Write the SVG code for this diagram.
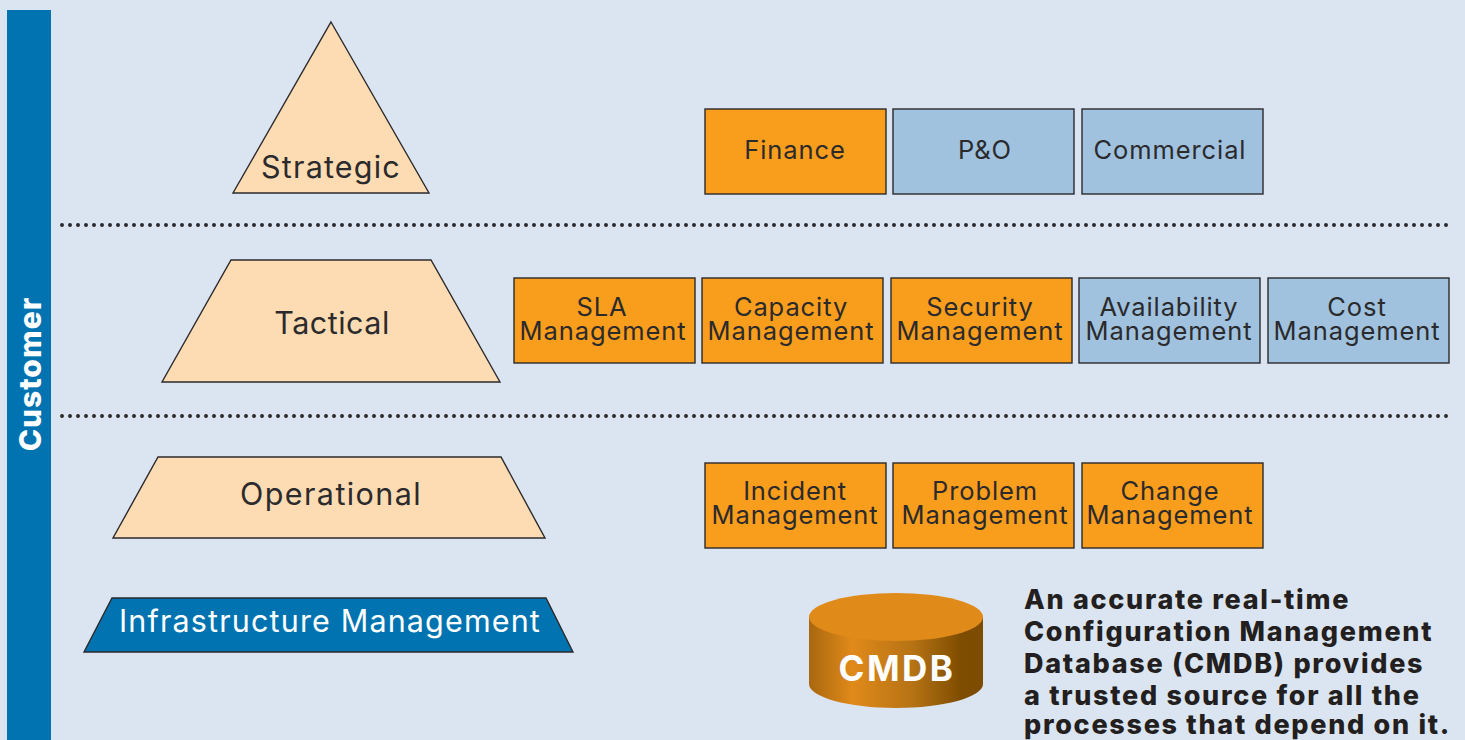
<svg xmlns="http://www.w3.org/2000/svg" width="1465" height="740" viewBox="0 0 1465 740">
<style>
text{font-family:Inter,"Liberation Sans",sans-serif;fill:#2b2a2c;text-anchor:middle}
.l{font-size:25.5px;letter-spacing:.9px}
.tier{font-size:30.5px;letter-spacing:1.2px}
.b{stroke:#2b2a2c;stroke-width:1.4}
.o{fill:#f99d1c}
.u{fill:#a0c2df}
.t{fill:#fddcb3;stroke:#2b2a2c;stroke-width:1.4}
.dots{fill:none;stroke:#2b2a2c;stroke-width:4;stroke-linecap:round;stroke-dasharray:0 8}
.n{font-size:27px;font-weight:800;letter-spacing:1.7px;text-anchor:start;fill:#231f20}
</style>
<defs>
<linearGradient id="side" x1="0" x2="1" y1="0" y2="0">
<stop offset="0" stop-color="#a9670f"/><stop offset="0.25" stop-color="#e08a1a"/><stop offset="0.6" stop-color="#b57214"/><stop offset="0.88" stop-color="#7d4c00"/><stop offset="1" stop-color="#7d4c00"/>
</linearGradient>
</defs>
<rect width="1465" height="740" fill="#dbe5f1"/>
<g id="customer"><rect x="7" y="10" width="44" height="730" fill="#0073b0"/>
<text transform="translate(40.5,374) rotate(-90)" font-size="30" font-weight="800" letter-spacing="1" style="fill:#fff">Customer</text></g>
<g id="connectors"><path class="dots" d="M62 225H1448"/><path class="dots" d="M62 416H1448"/></g>
<g id="strategic"><path class="t" d="M331 22L429 193H233Z"/><text class="tier" x="331" y="178">Strategic</text></g>
<g id="tactical"><path class="t" d="M231 260H431L500 382H162Z"/><text class="tier" x="332" y="334" style="letter-spacing:.5px">Tactical</text></g>
<g id="operational"><path class="t" d="M158 457H501L545 538H113Z"/><text class="tier" x="331" y="505" style="letter-spacing:1.4px">Operational</text></g>
<g id="infrastructure"><path d="M112 598H546L573 652H84Z" fill="#0073b0" stroke="#2b2a2c" stroke-width="1.4"/><text class="tier" x="330" y="632" style="fill:#fff;letter-spacing:1.15px">Infrastructure Management</text></g>
<g id="finance"><rect class="b o" x="705" y="109" width="181" height="85"/><text class="l" x="795" y="159">Finance</text></g>
<g id="po"><rect class="b u" x="893" y="109" width="181" height="85"/><text class="l" x="985" y="159">P&amp;O</text></g>
<g id="commercial"><rect class="b u" x="1082" y="109" width="181" height="85"/><text class="l" x="1170" y="159">Commercial</text></g>
<g id="sla"><rect class="b o" x="514" y="278" width="181" height="85"/><text class="l" x="602" y="316">SLA</text><text class="l" x="603" y="340">Management</text></g>
<g id="capacity"><rect class="b o" x="702" y="278" width="181" height="85"/><text class="l" x="791" y="316">Capacity</text><text class="l" x="791" y="340">Management</text></g>
<g id="security"><rect class="b o" x="891" y="278" width="181" height="85"/><text class="l" x="980" y="316">Security</text><text class="l" x="980" y="340">Management</text></g>
<g id="availability"><rect class="b u" x="1079" y="278" width="181" height="85"/><text class="l" x="1169" y="316">Availability</text><text class="l" x="1169" y="340">Management</text></g>
<g id="cost"><rect class="b u" x="1268" y="278" width="181" height="85"/><text class="l" x="1357" y="316">Cost</text><text class="l" x="1357" y="340">Management</text></g>
<g id="incident"><rect class="b o" x="705" y="463" width="181" height="85"/><text class="l" x="795" y="500">Incident</text><text class="l" x="795" y="524">Management</text></g>
<g id="problem"><rect class="b o" x="893" y="463" width="181" height="85"/><text class="l" x="985" y="500">Problem</text><text class="l" x="985" y="524">Management</text></g>
<g id="change"><rect class="b o" x="1082" y="463" width="181" height="85"/><text class="l" x="1170" y="500">Change</text><text class="l" x="1170" y="524">Management</text></g>
<g id="cmdb"><path d="M809 617V684C809 697 848 708 896 708S983 697 983 684V617Z" fill="url(#side)"/><ellipse cx="896" cy="617" rx="87" ry="24" fill="#e08a1a"/><text x="897" y="681" font-size="35" font-weight="700" letter-spacing="2.5" style="fill:#fff">CMDB</text></g>
<g id="note"><text class="n" x="1024" y="609">An accurate real-time</text><text class="n" x="1024" y="641">Configuration Management</text><text class="n" x="1024" y="673">Database (CMDB) provides</text><text class="n" x="1024" y="705">a trusted source for all the</text><text class="n" x="1024" y="734">processes that depend on it.</text></g>
</svg>
